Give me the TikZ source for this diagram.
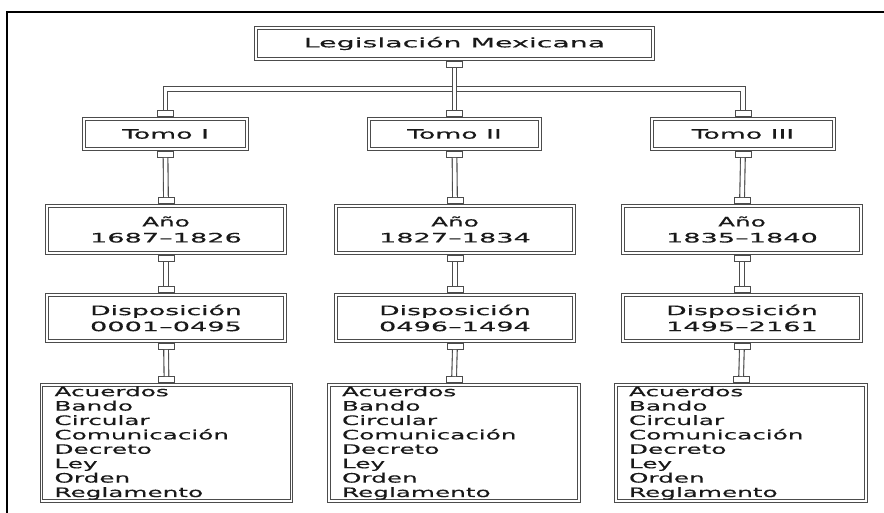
\documentclass[tikz,border=0pt]{standalone}
\usepackage{fontspec}
\setmainfont[FakeStretch=1.9,FakeBold=0.3]{DejaVu Sans}
\usepackage{graphicx}
\usepackage{tikz}
\usetikzlibrary{calc}
\definecolor{boxgray}{gray}{0.3}
\definecolor{ink}{gray}{0.1}
\newcommand{\ancho}[2]{\scalebox{#1}[1]{#2}}
\newcommand{\tiposdisp}{Acuerdos\\Bando\\Circular\\Comunicación\\Decreto\\Ley\\Orden\\Reglamento}

\begin{document}
\begin{tikzpicture}[
    x=1pt,y=-1pt,
    b/.style={rectangle,draw=boxgray,double=white,double distance=1.8pt,line width=1pt,outer sep=1.9pt,inner sep=0pt,text=ink,font=\fontsize{13}{16}\selectfont,align=center},
    lst/.style={b,align=left,font=\fontsize{13}{14.4}\selectfont,text width=224pt,inner xsep=13pt,minimum width=250pt,minimum height=116pt},
    p/.style={rectangle,draw=boxgray,fill=white,line width=0.9pt,minimum width=16pt,minimum height=6pt,inner sep=0pt},
    link/.style={draw=boxgray,double=white,double distance=3.6pt,line width=1.1pt},
]
    \clip (0,0) rectangle (884,512);
    \draw[line width=1.6pt] (7,12) rectangle (900,530);

    % cajas
    \node[b,minimum width=397pt,minimum height=31pt] (root) at (454.5,43.5) {\ancho{1.15}{Legislación Mexicana}};
    \node[b,minimum width=163pt,minimum height=30pt] (t1) at (165.5,134) {\ancho{1.08}{Tomo I}};
    \node[b,minimum width=171pt,minimum height=30pt] (t2) at (454.5,134) {\ancho{1.08}{Tomo II}};
    \node[b,minimum width=182pt,minimum height=30pt] (t3) at (743,134) {\ancho{1.08}{Tomo III}};
    \node[b,minimum width=238pt,minimum height=47pt] (a1) at (166,229.5) {Año\\\ancho{1.1}{1687--1826}};
    \node[b,minimum width=238pt,minimum height=47pt] (a2) at (455,229.5) {Año\\\ancho{1.1}{1827--1834}};
    \node[b,minimum width=238pt,minimum height=47pt] (a3) at (742,229.5) {Año\\\ancho{1.1}{1835--1840}};
    \node[b,minimum width=238pt,minimum height=46pt] (d1) at (166,318) {\ancho{1.08}{Disposición}\\\ancho{1.1}{0001--0495}};
    \node[b,minimum width=238pt,minimum height=46pt] (d2) at (455,318) {\ancho{1.08}{Disposición}\\\ancho{1.1}{0496--1494}};
    \node[b,minimum width=238pt,minimum height=46pt] (d3) at (742,318) {\ancho{1.08}{Disposición}\\\ancho{1.1}{1495--2161}};
    \node[lst] (l1) at (166.5,443) {\tiposdisp};
    \node[lst] (l2) at (454,443) {\tiposdisp};
    \node[lst] (l3) at (741,443) {\tiposdisp};

    % conectores
    \node[p,anchor=north] (rs) at (root.south) {};
    \node[p,anchor=south] (t1n) at (t1.north) {};
    \node[p,anchor=south] (t2n) at (t2.north) {};
    \node[p,anchor=south] (t3n) at (t3.north) {};
    \coordinate (bus) at ($(rs.south)!.5!(t2n.north)$);
    \draw[link] (t1n) |- (bus) -| (t3n);
    \draw[link] (rs) -- (t2n);

    \node[p,anchor=north] (t1s) at (t1.south) {};
    \node[p,anchor=north] (t2s) at (t2.south) {};
    \node[p,anchor=north] (t3s) at (t3.south) {};
    \node[p,anchor=south] (a1n) at (a1.north) {};
    \node[p,anchor=south] (a2n) at (a2.north) {};
    \node[p,anchor=south] (a3n) at (a3.north) {};
    \draw[link] (t1s) -- (a1n);
    \draw[link] (t2s) -- (a2n);
    \draw[link] (t3s) -- (a3n);

    \node[p,anchor=north] (a1s) at (a1.south) {};
    \node[p,anchor=north] (a2s) at (a2.south) {};
    \node[p,anchor=north] (a3s) at (a3.south) {};
    \node[p,anchor=south] (d1n) at (d1.north) {};
    \node[p,anchor=south] (d2n) at (d2.north) {};
    \node[p,anchor=south] (d3n) at (d3.north) {};
    \draw[link] (a1s) -- (d1n);
    \draw[link] (a2s) -- (d2n);
    \draw[link] (a3s) -- (d3n);

    \node[p,anchor=north] (d1s) at (d1.south) {};
    \node[p,anchor=north] (d2s) at (d2.south) {};
    \node[p,anchor=north] (d3s) at (d3.south) {};
    \node[p,anchor=south] (l1n) at (l1.north) {};
    \node[p,anchor=south] (l2n) at (l2.north) {};
    \node[p,anchor=south] (l3n) at (l3.north) {};
    \draw[link] (d1s) -- (l1n);
    \draw[link] (d2s) -- (l2n);
    \draw[link] (d3s) -- (l3n);
\end{tikzpicture}
\end{document}
